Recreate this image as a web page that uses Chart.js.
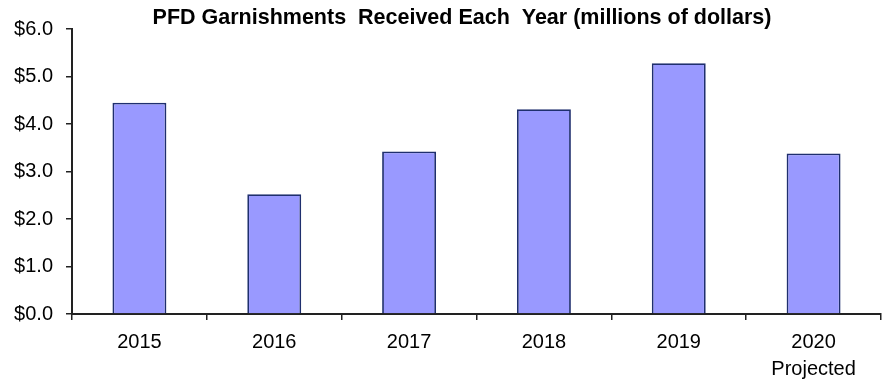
<!DOCTYPE html>
<html>
<head>
<meta charset="utf-8">
<script src="https://cdn.jsdelivr.net/npm/chart.js@4.4.1/dist/chart.umd.min.js"></script>
<style>
html,body{margin:0;padding:0;background:#fff;}
#wrap{width:882px;height:379px;position:relative;}
</style>
</head>
<body>
<div id="wrap"><canvas id="c" width="882" height="379"></canvas></div>
<script>
const titleText = "PFD Garnishments  Received Each  Year (millions of dollars)";
const categories = [["2015"], ["2016"], ["2017"], ["2018"], ["2019"], ["2020", "Projected"]];
const garnishments = [4.45, 2.52, 3.42, 4.31, 5.28, 3.38];
const yTicks = [0, 1, 2, 3, 4, 5, 6];

const titlePlugin = {
  id: 'customTitle',
  afterDraw(chart) {
    const ctx = chart.ctx;
    ctx.save();
    ctx.font = "bold 21.5px 'Liberation Sans', Arial, sans-serif";
    ctx.fillStyle = '#000';
    ctx.textAlign = 'center';
    ctx.textBaseline = 'middle';
    ctx.fillText(titleText, 462, 18);
    ctx.restore();
  }
};

new Chart(document.getElementById('c'), {
  type: 'bar',
  data: {
    labels: categories,
    datasets: [{
      data: garnishments,
      backgroundColor: '#9999FF',
      borderColor: '#1F2F6E',
      borderWidth: 1.8,
      barPercentage: 0.4,
      categoryPercentage: 1.0
    }]
  },
  options: {
    responsive: false,
    animation: false,
    devicePixelRatio: 1,
    layout: { padding: { top: 29, right: 1, left: 0, bottom: 0 } },
    plugins: { legend: { display: false }, title: { display: false }, tooltip: { enabled: false } },
    scales: {
      x: {
        grid: { display: true, drawOnChartArea: false, drawTicks: true, tickLength: 6, color: '#222', offset: true, lineWidth: 1.5 },
        border: { display: true, color: '#222', width: 2 },
        ticks: { color: '#000', font: { family: "'Liberation Sans', Arial, sans-serif", size: 20, lineHeight: 1.35 }, padding: 9, maxRotation: 0, autoSkip: false },
        afterFit(scale) { scale.height = 65; }
      },
      y: {
        min: 0, max: 6,
        afterBuildTicks(scale) { scale.ticks = yTicks.map(v => ({ value: v })); },
        grid: { display: true, drawOnChartArea: false, drawTicks: true, tickLength: 6, color: '#222', lineWidth: 1.5 },
        border: { display: true, color: '#222', width: 2 },
        ticks: {
          color: '#000',
          font: { family: "'Liberation Sans', Arial, sans-serif", size: 20 },
          padding: 13,
          callback: v => '$' + Number(v).toFixed(1)
        },
        afterFit(scale) { scale.width = 72; }
      }
    }
  },
  plugins: [titlePlugin]
});
</script>
</body>
</html>
